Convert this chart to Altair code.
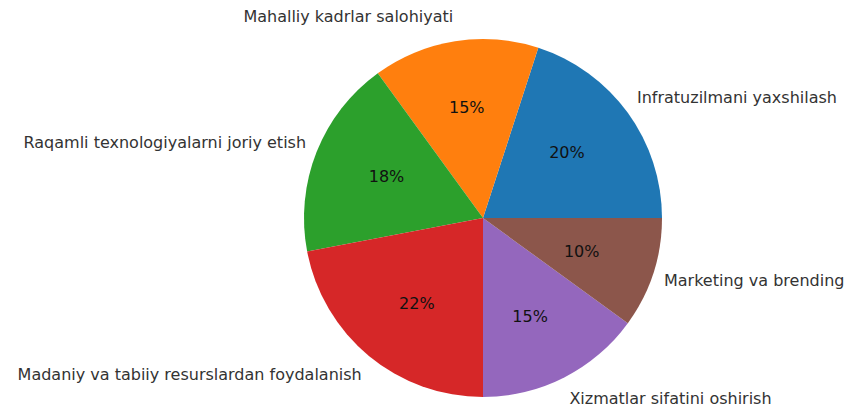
import math
import altair as alt
import pandas as pd

labels = [
    "Infratuzilmani yaxshilash",
    "Mahalliy kadrlar salohiyati",
    "Raqamli texnologiyalarni joriy etish",
    "Madaniy va tabiiy resurslardan foydalanish",
    "Xizmatlar sifatini oshirish",
    "Marketing va brending",
]
values = [20, 15, 18, 22, 15, 10]
colors = ["#1f77b4", "#ff7f0e", "#2ca02c", "#d62728", "#9467bd", "#8c564b"]

df = pd.DataFrame({"label": labels, "value": values, "idx": list(range(len(labels)))})

CX, CY = 475, 210
R = 179
RX, RY = 173, 185  # reference pie is slightly stretched vertically

theta_scale = alt.Scale(domain=[0, 100], range=[math.pi / 2, 5 * math.pi / 2], reverse=True)
xs = alt.Scale(domain=[-1, 1], range=[CX - RX, CX + RX])
ys = alt.Scale(domain=[-1, 1], range=[CY + RY, CY - RY])

base = alt.Chart(df)

arcs = base.mark_arc(radius=R, strokeWidth=0).encode(
    theta=alt.Theta("value:Q", stack=True, scale=theta_scale),
    order=alt.Order("idx:Q"),
    color=alt.Color("label:N", scale=alt.Scale(domain=labels, range=colors), legend=None),
    x=alt.value(CX),
    y=alt.value(CY),
)

FS = 16

pct = base.mark_text(fontSize=FS, font="DejaVu Sans", color="#111",
                     align="center", baseline="middle").encode(
    x=alt.X("px:Q", scale=xs, axis=None),
    y=alt.Y("py:Q", scale=ys, axis=None),
    text="pct:N",
)

lab_right = base.mark_text(fontSize=FS, font="DejaVu Sans", color="#333",
                           align="left", baseline="middle").transform_filter(
    "datum.lx >= 0"
).encode(
    x=alt.X("lx:Q", scale=xs, axis=None),
    y=alt.Y("ly:Q", scale=ys, axis=None),
    text="label:N",
)

lab_left = base.mark_text(fontSize=FS, font="DejaVu Sans", color="#333",
                          align="right", baseline="middle").transform_filter(
    "datum.lx < 0"
).encode(
    x=alt.X("lx:Q", scale=xs, axis=None),
    y=alt.Y("ly:Q", scale=ys, axis=None),
    text="label:N",
)

chart = alt.layer(arcs, pct, lab_right, lab_left).transform_window(
    cum="sum(value)", sort=[alt.SortField("idx")], frame=[None, 0]
).transform_calculate(
    mid="datum.cum - datum.value / 2",
    pct="format(datum.value, 'd') + '%'",
).transform_calculate(
    px="0.6 * cos(datum.mid * PI / 50)",
    py="0.6 * sin(datum.mid * PI / 50)",
    lx="1.1 * cos(datum.mid * PI / 50)",
    ly="1.1 * sin(datum.mid * PI / 50)",
).properties(
    width=839, height=400, autosize=alt.AutoSizeParams(type="none"), padding=0
).configure_view(stroke=None)

chart.save("out.html", embed_options={"renderer": "svg", "actions": False})
